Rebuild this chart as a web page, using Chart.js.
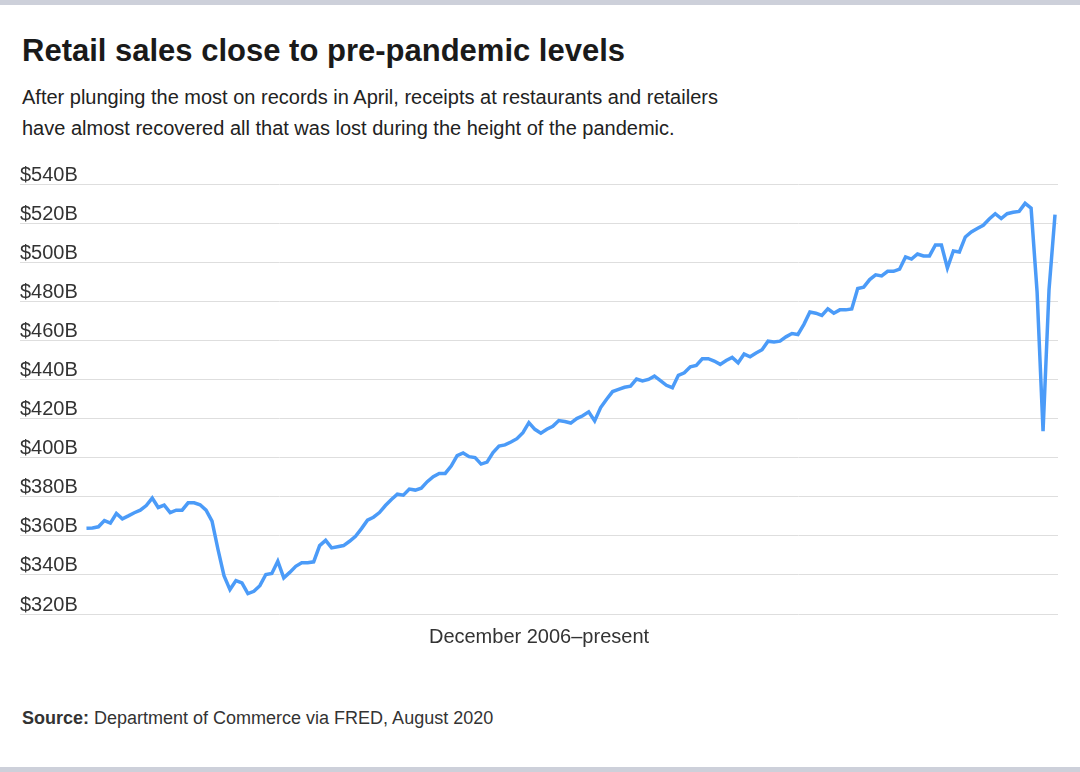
<!DOCTYPE html>
<html>
<head>
<meta charset="utf-8">
<title>Retail sales close to pre-pandemic levels</title>
<script src="https://cdn.jsdelivr.net/npm/chart.js@4.4.0/dist/chart.umd.min.js"></script>
<style>
  html, body { margin: 0; padding: 0; background: #fff; }
  body {
    width: 1080px; height: 772px; position: relative; overflow: hidden;
    font-family: "Liberation Sans", Arial, Helvetica, sans-serif;
  }
  .bar { position: absolute; left: 0; width: 1080px; height: 5px; background: #cdd0da; }
  #title {
    position: absolute; left: 22px; top: 33px; margin: 0;
    font-size: 31px; line-height: 36px; font-weight: bold; color: #1a1a1a;
  }
  #subtitle {
    position: absolute; left: 22px; top: 82px; margin: 0;
    font-size: 20px; line-height: 31px; color: #222;
  }
  #source {
    position: absolute; left: 22px; top: 707px; margin: 0;
    font-size: 18px; line-height: 22px; color: #333;
  }
  #chartBox { position: absolute; left: 0; top: 150px; width: 1080px; height: 502px; }
</style>
</head>
<body>
<div class="bar" style="top:0"></div>
<h1 id="title">Retail sales close to pre-pandemic levels</h1>
<p id="subtitle">After plunging the most on records in April, receipts at restaurants and retailers<br>have almost recovered all that was lost during the height of the pandemic.</p>
<div id="chartBox"><canvas id="salesChart"></canvas></div>
<p id="source"><b>Source:</b> Department of Commerce via FRED, August 2020</p>
<div class="bar" style="top:767px"></div>

<script>
// monthly retail sales, $ billions, December 2006 through June 2020
const startYear = 2006;
const startMonth = 11; // December (0-based)

const salesB = [
  363.9, 364.0, 364.6, 367.8, 366.5, 371.4, 368.7, 370.2, 371.8, 373.1,
  375.5, 379.3, 374.5, 375.7, 371.9, 373.1, 373.1, 376.9, 376.9, 375.9,
  373.1, 367.5, 353.0, 339.6, 332.5, 337.1, 335.9, 330.4, 331.6, 334.5,
  340.2, 340.7, 347.0, 338.5, 341.3, 344.4, 346.2, 346.2, 346.7, 355.0,
  357.7, 353.8, 354.4, 355.0, 357.2, 359.8, 363.7, 368.0, 369.5, 371.9,
  375.5, 378.6, 381.3, 380.8, 383.9, 383.4, 384.4, 387.7, 390.3, 391.9,
  391.9, 395.7, 401.0, 402.4, 400.5, 400.0, 396.7, 397.7, 402.6, 405.9,
  406.5, 408.0, 409.7, 412.8, 417.9, 414.5, 412.5, 414.5, 416.0, 419.0,
  418.5, 417.7, 420.0, 421.4, 423.4, 418.8, 425.6, 429.9, 433.8, 434.9,
  436.0, 436.6, 440.2, 439.2, 440.0, 441.7, 439.4, 437.0, 435.8, 442.1,
  443.4, 446.5, 447.2, 450.6, 450.6, 449.4, 447.7, 449.7, 451.3, 448.5,
  453.0, 451.6, 453.5, 455.2, 459.6, 459.2, 459.6, 461.8, 463.5, 463.0,
  468.2, 474.5, 473.9, 472.8, 476.1, 473.9, 475.6, 475.6, 476.1, 486.5,
  487.2, 491.1, 493.5, 493.0, 495.3, 495.3, 496.4, 502.7, 501.6, 504.2,
  503.2, 503.2, 508.8, 508.8, 497.0, 505.7, 505.2, 512.9, 515.5, 517.2,
  518.9, 522.1, 524.8, 522.3, 524.8, 525.5, 526.0, 530.1, 527.7, 485.0,
  413.5, 486.0, 524.3
];

const yTicks = [320, 340, 360, 380, 400, 420, 440, 460, 480, 500, 520, 540];

// month labels for each point
const monthNames = ['Jan','Feb','Mar','Apr','May','Jun','Jul','Aug','Sep','Oct','Nov','Dec'];
const months = salesB.map((_, i) => {
  const m = startMonth + i;
  return monthNames[m % 12] + ' ' + (startYear + Math.floor(m / 12));
});

const points = salesB.map((v, i) => ({ x: i, y: v }));

const ctx = document.getElementById('salesChart').getContext('2d');
new Chart(ctx, {
  type: 'line',
  data: {
    datasets: [{
      label: 'Retail sales',
      data: points,
      borderColor: '#4b9bf8',
      borderWidth: 3.5,
      pointRadius: 0,
      tension: 0,
      fill: false
    }]
  },
  options: {
    responsive: true,
    maintainAspectRatio: false,
    animation: false,
    layout: { padding: { left: 20, right: 22, top: 34, bottom: 3 } },
    plugins: {
      legend: { display: false },
      tooltip: { callbacks: { title: items => months[items[0].parsed.x] } }
    },
    scales: {
      x: {
        type: 'linear',
        min: -11.12,
        max: 162.5,
        grid: { display: false },
        border: { display: false },
        ticks: { display: false },
        title: {
          display: true,
          text: 'December 2006–present',
          color: '#333',
          font: { family: '"Liberation Sans", Arial, sans-serif', size: 20 },
          padding: { top: 3, bottom: 0 }
        }
      },
      y: {
        min: 320,
        max: 540,
        afterBuildTicks: axis => { axis.ticks = yTicks.map(v => ({ value: v })); },
        grid: { color: '#dedede', lineWidth: 1, drawTicks: false },
        border: { display: false },
        ticks: {
          mirror: true,
          padding: 0,
          labelOffset: -9,
          color: '#333',
          font: { family: '"Liberation Sans", Arial, sans-serif', size: 20 },
          callback: v => '$' + v + 'B'
        }
      }
    }
  }
});
</script>
</body>
</html>
